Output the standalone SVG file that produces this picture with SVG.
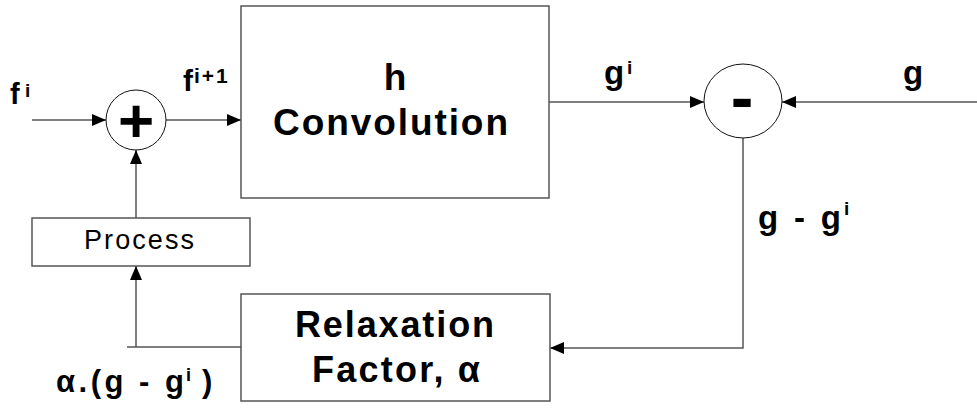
<svg xmlns="http://www.w3.org/2000/svg" width="977" height="408" viewBox="0 0 977 408">
<style>
.box{fill:#fff;stroke:#555;stroke-width:1.5}
.sum{fill:#fff;stroke:#111;stroke-width:1}
.ln{fill:none;stroke:#555;stroke-width:1.5}
.t{font-family:"Liberation Sans",Arial,sans-serif;fill:#000}
.b{font-weight:bold}
</style>
<defs>
<marker id="ah" viewBox="0 0 14 12" refX="14" refY="6" markerWidth="14" markerHeight="12" markerUnits="userSpaceOnUse" orient="auto">
<path d="M0,0 L14,6 L0,12 z" fill="#000"/>
</marker>
</defs>
<rect width="977" height="408" fill="#fff"/>
<g id="connectors">
<path class="ln" d="M32,120 H106" marker-end="url(#ah)"/>
<path class="ln" d="M166,120 H241" marker-end="url(#ah)"/>
<path class="ln" d="M549,102 H704" marker-end="url(#ah)"/>
<path class="ln" d="M977,102 H782" marker-end="url(#ah)"/>
<path class="ln" d="M743,138 V348 H550" marker-end="url(#ah)"/>
<path class="ln" d="M241,347 H127 M136,347 V266" marker-end="url(#ah)"/>
<path class="ln" d="M136,218 V150" marker-end="url(#ah)"/>
</g>
<g id="plus">
<circle class="sum" cx="136" cy="120" r="30"/>
<text class="t b" x="136" y="142" font-size="62" text-anchor="middle">+</text>
</g>
<g id="convolution">
<rect class="box" x="241" y="6" width="308" height="192"/>
<text class="t b" x="395" y="90" font-size="37" text-anchor="middle">h</text>
<text class="t b" x="273" y="135" font-size="37" textLength="235" lengthAdjust="spacing">Convolution</text>
</g>
<g id="minus">
<ellipse class="sum" cx="743" cy="101" rx="39" ry="37"/>
<text class="t b" x="742" y="121" font-size="68" text-anchor="middle">-</text>
</g>
<g id="process">
<rect class="box" x="32" y="218" width="218" height="48"/>
<text class="t" x="84" y="249" font-size="27" textLength="110" lengthAdjust="spacing">Process</text>
</g>
<g id="relaxation">
<rect class="box" x="241" y="294" width="309" height="107"/>
<text class="t b" x="295" y="337" font-size="36" textLength="199" lengthAdjust="spacing">Relaxation</text>
<text class="t b" x="312" y="382" font-size="36" textLength="168" lengthAdjust="spacing">Factor, α</text>
</g>
<g id="labels">
<text class="t b" x="10" y="104" font-size="29">f</text>
<text class="t b" x="25" y="97" font-size="19">i</text>
<text class="t b" x="183" y="91" font-size="30">f</text>
<text class="t b" x="194" y="83" font-size="21" letter-spacing="2">i+1</text>
<text class="t b" x="604" y="84" font-size="33">g</text>
<text class="t b" x="627" y="74" font-size="19">i</text>
<text class="t b" x="903" y="84" font-size="33">g</text>
<text class="t b" x="758" y="229" font-size="33" textLength="83" lengthAdjust="spacing">g - g</text>
<text class="t b" x="844" y="215" font-size="19">i</text>
<text class="t b" x="56" y="392" font-size="31" textLength="128" lengthAdjust="spacing">α.(g - g</text>
<text class="t b" x="186" y="381" font-size="18">i</text>
<text class="t b" x="202" y="392" font-size="31">)</text>
</g>
</svg>
